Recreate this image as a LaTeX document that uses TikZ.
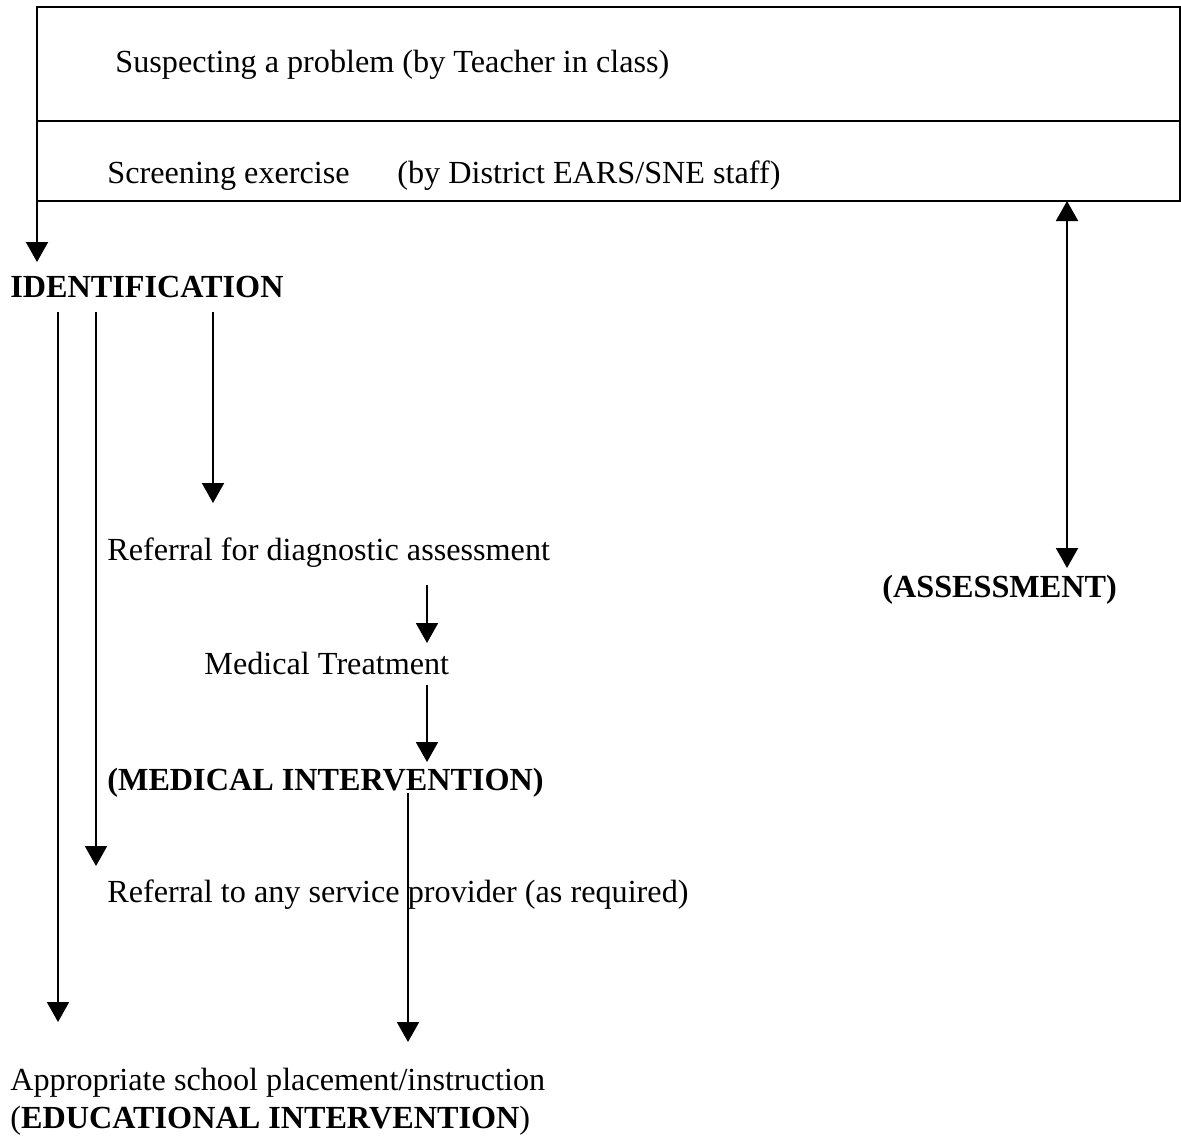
\documentclass[tikz,border=0pt]{standalone}
\usepackage{fontspec}
\setmainfont{Liberation Serif}
\usetikzlibrary{arrows.meta}
\begin{document}
\begin{tikzpicture}[x=0.5pt,y=-0.5pt,
 txt/.style={anchor=base west, inner sep=0pt, font=\fontsize{16.1}{19}\selectfont},
 btxt/.style={anchor=base west, inner sep=0pt, font=\fontsize{16.1}{19}\selectfont\bfseries},
 arr/.style={line width=1pt, -{Triangle[width=11pt,length=10pt]}},
 darr/.style={line width=1pt, {Triangle[width=11pt,length=10pt]}-{Triangle[width=11pt,length=10pt]}},
 frame/.style={draw, line width=1pt, minimum width=571.5pt, inner sep=0pt, outer sep=0pt, anchor=north west}]
\useasboundingbox (0,0) rectangle (1181,1135);
% frame
\node[frame, minimum height=57pt] (b1) at (37,7) {};
\node[frame, minimum height=40pt] (b2) at (37,121) {};
% texts
\node[txt] (t1) at (115,72) {Suspecting a problem (by Teacher in class)};
\node[txt] (t2) at (107,183) {Screening exercise};
\node[txt] (t3) at (397,183) {(by District EARS/SNE staff)};
\node[btxt] (ident) at (10,297) {IDENTIFICATION};
\node[txt] (ref1) at (107,560) {Referral for diagnostic assessment};
\node[txt] (med) at (204,674) {Medical Treatment};
\node[btxt] (medint) at (107,790) {(MEDICAL INTERVENTION)};
\node[txt] (ref2) at (107,902) {Referral to any service provider (as required)};
\node[txt] (appr) at (10,1090) {Appropriate school placement/instruction};
\node[txt] (eduint) at (10,1128) {(\textbf{EDUCATIONAL INTERVENTION})};
\node[btxt] (assess) at (882,597) {(ASSESSMENT)};
% connector end points
\coordinate (c0) at (37,262);
\coordinate (i1) at (58,312);  \coordinate (e1) at (58,1022);
\coordinate (i2) at (96,312);  \coordinate (e2) at (96,866);
\coordinate (i3) at (213,312); \coordinate (e3) at (213,503);
\coordinate (r1) at (427,585); \coordinate (m1) at (427,643);
\coordinate (m2) at (427,685); \coordinate (mi) at (427,762);
\coordinate (mo) at (408,793); \coordinate (ed) at (408,1042);
\coordinate (a1) at (1067,201); \coordinate (a2) at (1067,568);
% connectors
\draw[arr] (b2.south west) -- (c0);
\draw[arr] (i1) -- (e1);
\draw[arr] (i2) -- (e2);
\draw[arr] (i3) -- (e3);
\draw[arr] (r1) -- (m1);
\draw[arr] (m2) -- (mi);
\draw[arr] (mo) -- (ed);
\draw[darr] (a1) -- (a2);
\end{tikzpicture}
\end{document}
